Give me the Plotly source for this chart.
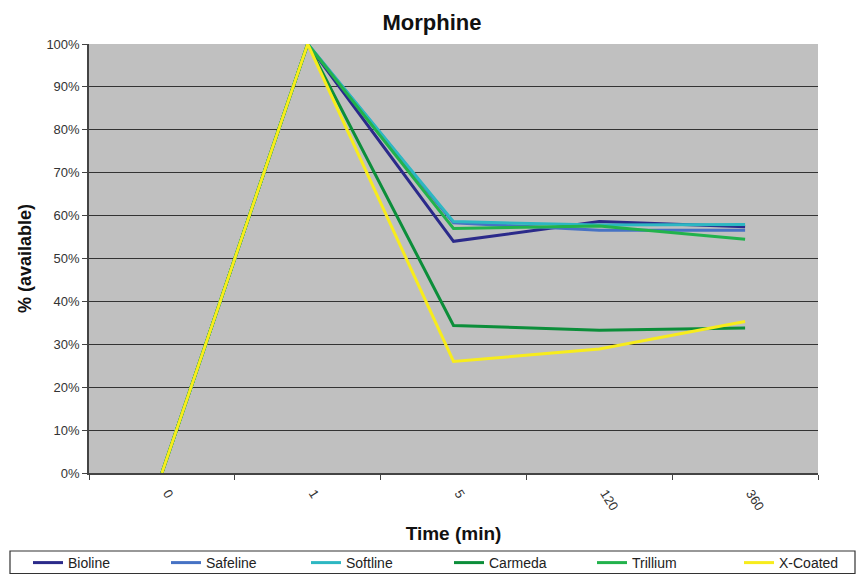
import plotly.graph_objects as go

times = ["0", "1", "5", "120", "360"]
bioline = [0, 100, 54.0, 58.6, 57.4]
safeline = [0, 100, 58.3, 56.6, 56.6]
softline = [0, 100, 58.6, 57.8, 57.9]
carmeda = [0, 100, 34.4, 33.3, 33.8]
trillium = [0, 100, 57.0, 57.6, 54.5]
xcoated = [0, 100, 26.0, 28.9, 35.3]

names = ["Bioline", "Safeline", "Softline", "Carmeda", "Trillium", "X-Coated"]
values = [bioline, safeline, softline, carmeda, trillium, xcoated]
colors = ["#2B2A8A", "#4672C4", "#2DB7C2", "#0C8E3A", "#22B24C", "#F7EC1C"]

W, H = 864, 574
L, R, T, B = 89, 46, 44, 101
legend_text_x = [69, 207, 347, 490, 633, 780]

fig = go.Figure()
legend_keys = ["legend"] + [f"legend{i}" for i in range(2, 7)]
for i, (name, vals, col) in enumerate(zip(names, values, colors)):
    fig.add_trace(go.Scatter(x=times, y=[v / 100 for v in vals], name=name, mode="lines",
                             line=dict(color=col, width=3), legend=legend_keys[i]))

font = "Liberation Sans, Arial, sans-serif"
legend_layout = {}
for i, key in enumerate(legend_keys):
    legend_layout[key] = dict(orientation="h", xref="container", yref="container",
                              x=(legend_text_x[i] - 41) / W, y=1 - 563 / H,
                              xanchor="left", yanchor="middle", borderwidth=0,
                              bgcolor="rgba(0,0,0,0)", font=dict(size=14, color="#222222"))

px2x = lambda p: (p - L) / (W - L - R)
px2y = lambda p: (H - B - p) / (H - T - B)

fig.update_layout(
    width=W, height=H,
    margin=dict(l=L, r=R, t=T, b=B, autoexpand=False),
    paper_bgcolor="white", plot_bgcolor="#C0C0C0",
    font=dict(family=font, color="#222222", size=12),
    title=dict(text="<b>Morphine</b>", x=0.5, xanchor="center", y=1 - 22 / H, yanchor="middle",
               font=dict(size=22, color="#111111")),
    showlegend=True,
    xaxis=dict(type="category", range=[-0.5, 4.5], tickson="boundaries", ticks="outside",
               ticklen=5, tickcolor="#444444", showline=True, linecolor="#444444", linewidth=1.5,
               showgrid=False, tickangle=58, tickfont=dict(size=13, color="#333333"),
               ticklabelshift=6, ticklabelstandoff=6,
               title=dict(text="<b>Time (min)</b>", font=dict(size=19, color="#111111"), standoff=14)),
    yaxis=dict(range=[0, 1], tickformat=".0%", dtick=0.1, ticks="outside", ticklen=5,
               tickcolor="#444444", showline=True, linecolor="#444444", linewidth=1.5,
               showgrid=True, gridcolor="#333333", gridwidth=1.2, zeroline=False,
               tickfont=dict(size=13, color="#333333"),
               title=dict(text="<b>% (available)</b>", font=dict(size=18, color="#111111"), standoff=10)),
    shapes=[dict(type="rect", xref="paper", yref="paper",
                 x0=px2x(10), x1=px2x(855), y0=px2y(573.5), y1=px2y(551),
                 line=dict(color="#333333", width=1.2), fillcolor="rgba(0,0,0,0)")],
    **legend_layout,
)

fig.write_html("out.html", config={"displayModeBar": False},
               post_script="document.body.style.margin='0';document.body.style.overflow='hidden';")
